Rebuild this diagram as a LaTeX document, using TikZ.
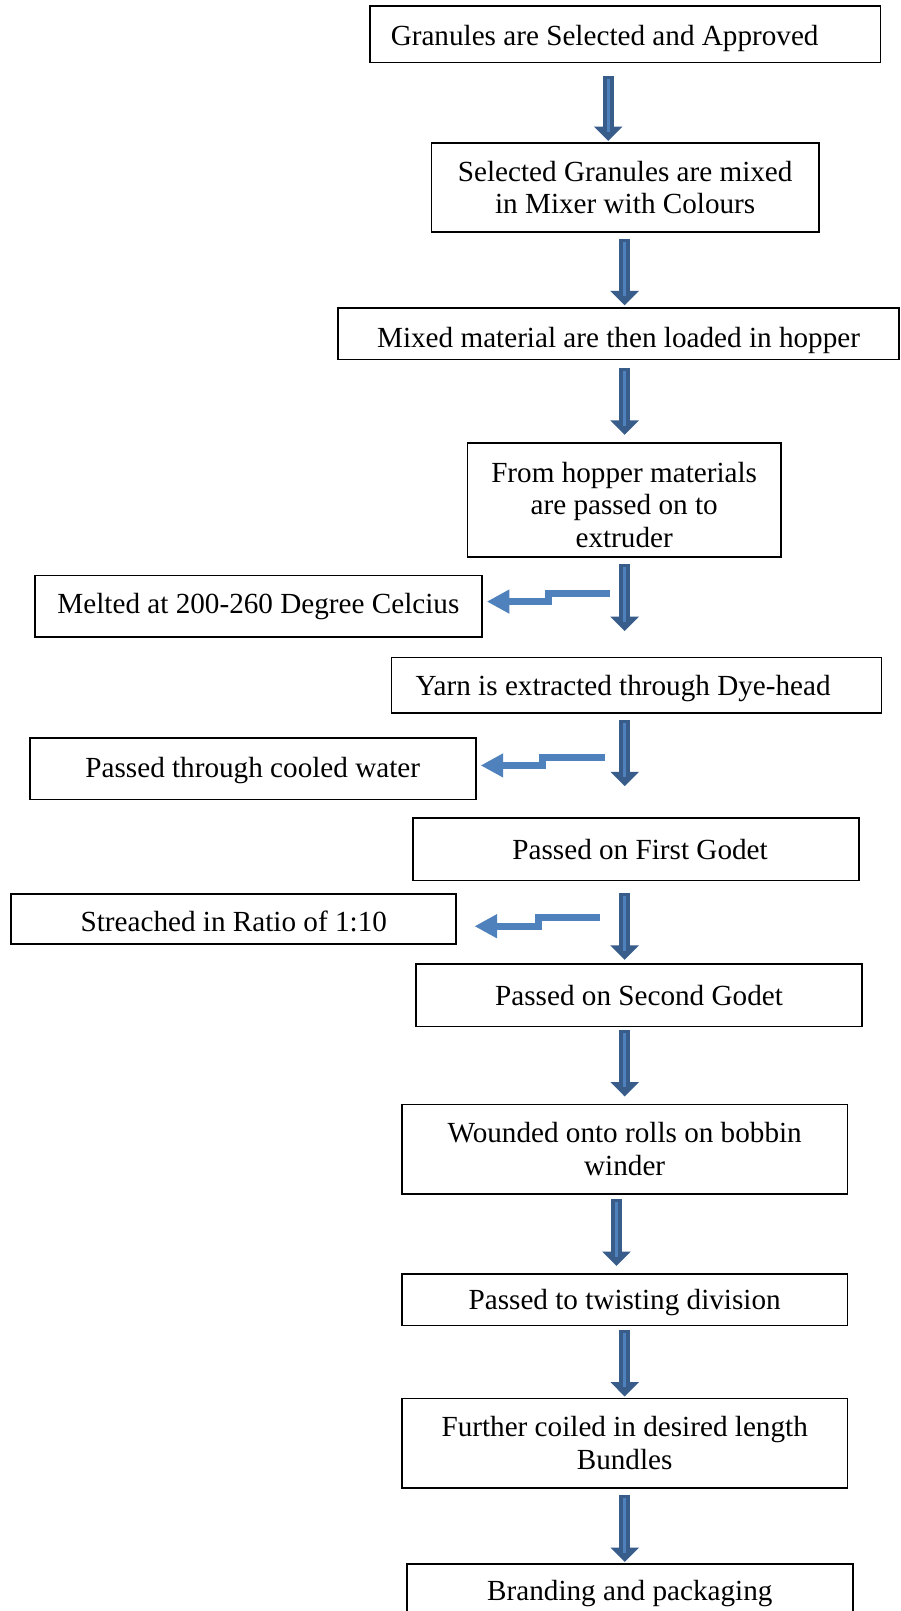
\documentclass[tikz,border=0pt]{standalone}
\usepackage{fontspec}
\setmainfont{Liberation Serif}
\usetikzlibrary{arrows.meta,calc}
\definecolor{arrowdark}{HTML}{385D8A}
\definecolor{arrowlight}{HTML}{4F81BD}
\tikzset{
  box/.style 2 args={draw=black, line width=0.8pt, fill=white, inner sep=0pt,
    minimum width=#1*0.5pt, minimum height=#2*0.5pt,
    font=\fontsize{14.2}{15.8}\selectfont, align=center},
  bigarrow/.style={draw=arrowdark, line width=5.25pt,
    -{Triangle[width=13.5pt,length=7pt]}, arrowdark},
  stripe/.style={draw=arrowlight, line width=1.5pt},
  sidearrow/.style={draw=arrowlight, line width=3.5pt, line join=miter,
    -{Triangle[width=11pt,length=11pt]}, arrowlight},
}
\newcommand\bigarr[5]{%
  \draw[bigarrow, shorten <=#4, shorten >=#5] (#2.south -| #1) -- (#3.north -| #1);
  \draw[stripe, shorten <=#4+1.5pt, shorten >=#5+4.5pt] (#2.south -| #1) -- (#3.north -| #1);
}
\newcommand\dn[2]{\raisebox{-#1}[\height][\depth]{#2}}
\begin{document}
\begin{tikzpicture}[x=0.5pt,y=-0.5pt]
\useasboundingbox (0,0) rectangle (876,1568);
\clip (0,0) rectangle (876,1568);
\fill[white] (0,0) rectangle (876,1568);

% main column boxes
\node[box={497}{55}] (B1) at (608.5,33.5) {\dn{2pt}{Granules are Selected and Approved}\hspace*{20pt}};
\node[box={377}{87}] (B2) at (608.5,182.5) {Selected Granules are mixed\\in Mixer with Colours};
\node[box={546}{50}] (B3) at (602,325) {\dn{3pt}{Mixed material are then loaded in hopper}};
\node[box={305}{111}] (B4) at (607.5,486.5) {\dn{2.5pt}{From hopper materials}\\\dn{2.5pt}{are passed on to}\\\dn{2.5pt}{extruder}};
\node[box={477}{54}] (B5) at (619.5,667) {\dn{1.5pt}{Yarn is extracted through Dye-head}\hspace*{13pt}};
\node[box={434}{61}] (B6) at (619,826.5) {\hspace*{4pt}Passed on First Godet};
\node[box={434}{61}] (B7) at (622,968.5) {Passed on Second Godet};
\node[box={434}{87}] (B8) at (608,1118.5) {Wounded onto rolls on bobbin\\winder};
\node[box={434}{50}] (B9) at (608,1265) {\dn{1.5pt}{Passed to twisting division}};
\node[box={434}{87}] (B10) at (608,1404.5) {Further coiled in desired length\\Bundles};
\node[box={434}{58}] (B11) at (613,1551) {Branding and packaging};

% side boxes
\node[box={435}{60}] (S1) at (251.5,590) {Melted at 200-260 Degree Celcius};
\node[box={434}{60}] (S2) at (246,748) {\dn{1pt}{Passed through cooled water}};
\node[box={433}{49}] (S3) at (227.5,894.5) {\dn{1pt}{Streached in Ratio of 1:10}};

% arrow x positions
\coordinate (c592) at (592,0);
\coordinate (c600) at (600,0);
\coordinate (c608) at (608,0);

% main block arrows
\bigarr{c592}{B1}{B2}{6pt}{0.5pt}
\bigarr{c608}{B2}{B3}{3pt}{1pt}
\bigarr{c608}{B3}{B4}{3.5pt}{3.5pt}
\bigarr{c608}{B4}{B5}{3pt}{12.5pt}
\bigarr{c608}{B5}{B6}{3pt}{15pt}
\bigarr{c608}{B6}{B7}{5.5pt}{1.5pt}
\bigarr{c608}{B7}{B8}{1.5pt}{3.5pt}
\bigarr{c600}{B8}{B9}{2pt}{3.5pt}
\bigarr{c608}{B9}{B10}{2pt}{0.5pt}
\bigarr{c608}{B10}{B11}{3pt}{0.5pt}

% side bent arrows
\coordinate (s1a) at (594,577.5);
\coordinate (s1m) at (534,585.5);
\draw[sidearrow, shorten >=2pt] (s1a) -| (s1m) -- (S1.east |- s1m);
\coordinate (s2a) at (589,737);
\coordinate (s2m) at (528,745);
\draw[sidearrow, shorten >=2pt] (s2a) -| (s2m) -- (S2.east |- s2m);
\coordinate (s3a) at (584,893);
\coordinate (s3m) at (524,901.5);
\draw[sidearrow, shorten >=8.5pt] (s3a) -| (s3m) -- (S3.east |- s3m);
\end{tikzpicture}
\end{document}
